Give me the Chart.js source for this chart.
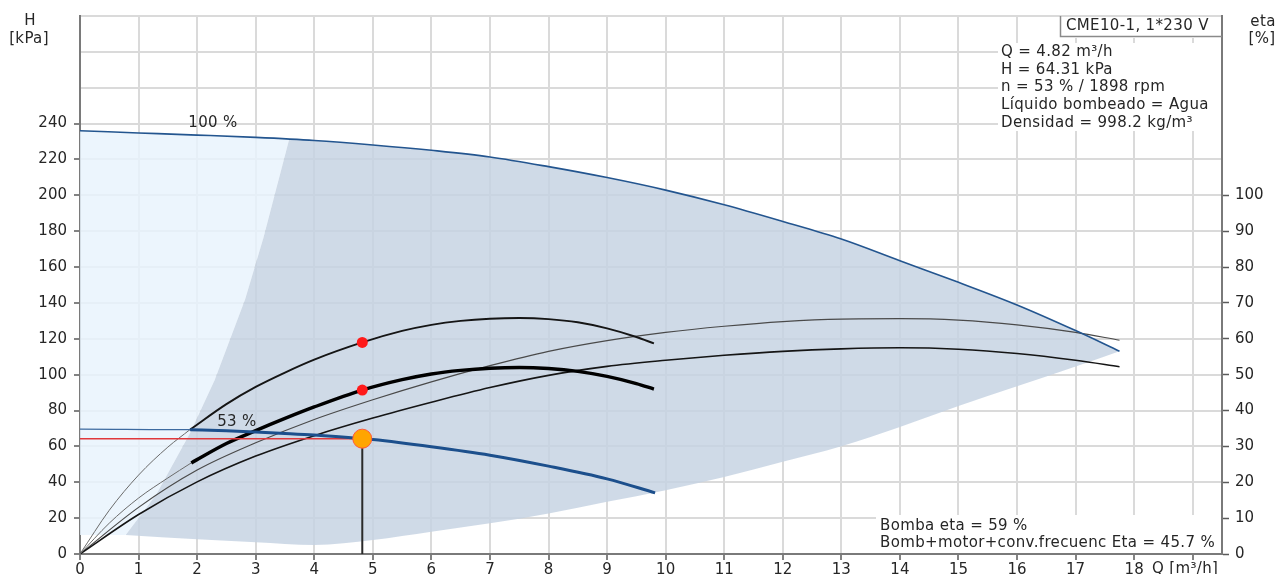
<!DOCTYPE html>
<html>
<head>
<meta charset="utf-8">
<title>CME10-1 curva de bomba</title>
<script src="https://cdn.jsdelivr.net/npm/chart.js@4.4.1/dist/chart.umd.min.js"></script>
<style>
  html, body { margin: 0; padding: 0; background: #ffffff; }
  #wrap { width: 1284px; height: 574px; position: relative; }
</style>
</head>
<body>
<div id="wrap"><canvas id="pump"></canvas></div>
<script>
// ---- Curve data (Q in m³/h, H in kPa, eta in %) ----
const flowFull = [0, 1, 2, 3, 4, 5, 6, 7, 8, 9, 10, 11, 12, 13, 14, 15, 16, 17, 17.75];
const headFull = [236, 234.8, 233.6, 232.3, 230.6, 228.1, 225.1, 221.4, 216.0, 209.9, 202.9, 194.7, 185.4, 175.6, 163.5, 151.5, 138.9, 124.6, 113.1];
const etaPumpFull = [0, 13, 23.4, 31, 37.5, 43, 48, 52.5, 56.5, 59.5, 61.8, 63.5, 64.8, 65.5, 65.6, 65.2, 63.9, 61.8, 59.6];
const etaTotalFull = [0, 11, 20.1, 27.3, 33, 37.9, 42.3, 46.4, 49.8, 52.3, 54, 55.4, 56.5, 57.2, 57.5, 57.1, 55.9, 54.0, 52.2];

// 53 % speed: head curve (outside / inside the operating range)
const flow53Out = [0, 0.6, 1.2, 1.88];
const head53Out = [69.6, 69.5, 69.4, 69.3];
const flow53 = [1.88, 2.5, 3, 3.5, 4, 4.82, 5, 6, 7, 8, 9, 9.82];
const head53 = [69.3, 68.7, 68.0, 67.2, 66.3, 64.31, 63.8, 59.8, 55.1, 49.0, 41.9, 34.1];

// 53 % speed: pump efficiency
const flowEtaPump53Out = [0, 0.5, 1, 1.5, 1.88];
const etaPump53Out = [0, 12.2, 22, 29.8, 34.7];
const flowEtaPump53 = [1.88, 2.5, 3, 3.5, 4, 4.82, 5.5, 6, 6.5, 7, 7.5, 8, 8.5, 9, 9.5, 9.8];
const etaPump53 = [34.7, 41.8, 46.6, 50.6, 54.2, 59, 62.2, 63.9, 65.0, 65.6, 65.8, 65.5, 64.6, 62.9, 60.5, 58.7];

// 53 % speed: pump + motor + frequency converter efficiency
const flowEtaTotal53Out = [0, 0.5, 1, 1.5, 1.9];
const etaTotal53Out = [0, 8.6, 15.6, 21.2, 25.4];
const flowEtaTotal53 = [1.9, 2.5, 3, 3.5, 4, 4.82, 5.5, 6, 6.5, 7, 7.5, 8, 8.5, 9, 9.5, 9.8];
const etaTotal53 = [25.4, 30.8, 34.4, 37.8, 41.0, 45.7, 48.6, 50.2, 51.2, 51.8, 52.0, 51.7, 50.9, 49.5, 47.5, 46.0];

// Operating range limits
const rangeLeftFlow = [0.78, 1.3, 1.88, 2.3, 2.82, 3.13, 3.57];
const rangeLeftHead = [10.6, 33, 67.5, 97, 142, 176, 231.0];
const rangeBottomFlow = [0.78, 2, 3, 4, 5, 6, 7, 8, 9, 10, 11, 12, 13, 14, 15, 16, 17, 17.75];
const rangeBottomHead = [10.6, 8.2, 6.5, 5.0, 7.8, 12.4, 17.1, 22.6, 29.1, 35.6, 43.0, 51.4, 60.1, 70.8, 82.5, 93.5, 104.6, 113.1];
const minHead = 10.6;

// Duty point
const dutyFlow = 4.82;
const dutyHead = 64.31;
const dutyEtaPump = 59;
const dutyEtaTotal = 45.7;

// Axis ticks
const flowLabelMax = 18;
const headLabelMax = 240;
const etaLabelMax = 100;

// Texts
const pumpName = 'CME10-1, 1*230 V';
const infoLines = ['Q = 4.82 m³/h', 'H = 64.31 kPa', 'n = 53 % / 1898 rpm', 'Líquido bombeado = Agua', 'Densidad = 998.2 kg/m³'];
const effLines = ['Bomba eta = 59 %', 'Bomb+motor+conv.frecuenc Eta = 45.7 %'];
const fullSpeedLabel = '100 %';
const partSpeedLabel = '53 %';

// ---- Build point lists ----
const pts = (xs, ys) => xs.map((x, i) => ({ x: x, y: ys[i] }));
const splitAt = rangeLeftFlow[rangeLeftFlow.length - 1];

// light area (left of operating range)
const lightUpper = pts(flowFull, headFull).filter(p => p.x < splitAt)
  .concat([{ x: splitAt, y: rangeLeftHead[rangeLeftHead.length - 1] }]);
const lightLower = [{ x: 0, y: minHead }].concat(pts(rangeLeftFlow, rangeLeftHead));

// operating range
const darkUpper = pts(rangeLeftFlow, rangeLeftHead)
  .concat(pts(flowFull, headFull).filter(p => p.x > splitAt));
const darkLower = pts(rangeBottomFlow, rangeBottomHead);

const BLUE = '#23558f';
const GRID = '#dadada';
const AXIS = '#7a7a7a';
const TXT = '#262626';
const FONT = '"DejaVu Sans", "Liberation Sans", sans-serif';

const curve = (data, axis, color, width, order) => ({
  data: data, yAxisID: axis, borderColor: color, borderWidth: width,
  pointRadius: 0, fill: false, cubicInterpolationMode: 'monotone', order: order
});

const datasets = [
  // 0,1: area left of the operating range
  { data: lightUpper, yAxisID: 'y', borderColor: 'transparent', borderWidth: 0, pointRadius: 0,
    fill: 1, backgroundColor: 'rgba(232,243,253,0.82)', tension: 0, order: 60 },
  { data: lightLower, yAxisID: 'y', borderColor: 'transparent', borderWidth: 0, pointRadius: 0,
    fill: false, tension: 0, order: 61 },
  // 2,3: operating range
  { data: darkUpper, yAxisID: 'y', borderColor: 'transparent', borderWidth: 0, pointRadius: 0,
    fill: 3, backgroundColor: 'rgba(196,210,226,0.82)', tension: 0, order: 50 },
  { data: darkLower, yAxisID: 'y', borderColor: 'transparent', borderWidth: 0, pointRadius: 0,
    fill: false, cubicInterpolationMode: 'monotone', order: 51 },

  // efficiency curves (right axis)
  curve(pts(flowFull, etaPumpFull), 'y2', '#4a4a4a', 1.2, 20),
  curve(pts(flowFull, etaTotalFull), 'y2', '#151515', 1.6, 19),
  curve(pts(flowEtaPump53Out, etaPump53Out), 'y2', '#6a6a6a', 1, 18),
  curve(pts(flowEtaTotal53Out, etaTotal53Out), 'y2', '#6a6a6a', 1, 18),
  curve(pts(flowEtaPump53, etaPump53), 'y2', '#151515', 1.9, 17),
  curve(pts(flowEtaTotal53, etaTotal53), 'y2', '#000000', 3.4, 16),

  // head curves (left axis)
  curve(pts(flowFull, headFull), 'y', BLUE, 1.6, 15),
  curve(pts(flow53Out, head53Out), 'y', '#3d6aa0', 1.2, 14),

  // duty point guide lines
  { data: [{ x: 0, y: dutyHead }, { x: dutyFlow, y: dutyHead }], yAxisID: 'y', borderColor: '#e0383c',
    borderWidth: 1.5, pointRadius: 0, fill: false, order: 13 },
  { data: [{ x: dutyFlow, y: 0 }, { x: dutyFlow, y: dutyHead }], yAxisID: 'y', borderColor: '#2a2a2a',
    borderWidth: 2, pointRadius: 0, fill: false, order: 12 },

  curve(pts(flow53, head53), 'y', '#1c4f8c', 3, 11),

  // duty point markers
  { data: [{ x: dutyFlow, y: dutyEtaPump }, { x: dutyFlow, y: dutyEtaTotal }], yAxisID: 'y2', showLine: false,
    pointRadius: 5.5, pointBackgroundColor: '#ff1a1a', pointBorderColor: '#ff2020', pointBorderWidth: 0, order: 2 },
  { data: [{ x: dutyFlow, y: dutyHead }], yAxisID: 'y', showLine: false,
    pointRadius: 9.5, pointBackgroundColor: '#ffa500', pointBorderColor: '#ff5a3c', pointBorderWidth: 1, order: 1 }
];

// ---- Texts and boxes drawn on top ----
const textPlugin = {
  id: 'pumpTexts',
  afterDraw(chart) {
    const ctx = chart.ctx;
    const a = chart.chartArea;
    const xs = chart.scales.x, ys = chart.scales.y;
    ctx.save();
    ctx.font = '15px ' + FONT;
    if ('letterSpacing' in ctx) ctx.letterSpacing = '0.35px';
    ctx.fillStyle = TXT;
    ctx.textBaseline = 'middle';

    // axis titles
    ctx.textAlign = 'center';
    ctx.fillText('H', 30, 21);
    ctx.fillText('[kPa]', 29, 39);
    ctx.fillText('eta', 1263, 22);
    ctx.fillText('[%]', 1262, 39);

    // curve labels
    ctx.fillText(fullSpeedLabel, xs.getPixelForValue(2.27), ys.getPixelForValue(240));
    ctx.fillText(partSpeedLabel, xs.getPixelForValue(2.68), ys.getPixelForValue(73.5));

    // flow axis title
    ctx.textAlign = 'left';
    ctx.fillText('Q [m³/h]', 1152, 569);

    // pump name box
    ctx.fillStyle = '#ffffff';
    ctx.fillRect(1060, a.top + 1, a.right - 1061, 21);
    ctx.strokeStyle = '#8a8a8a';
    ctx.lineWidth = 1.5;
    ctx.beginPath();
    ctx.moveTo(1060.5, a.top);
    ctx.lineTo(1060.5, 36.5);
    ctx.lineTo(a.right, 36.5);
    ctx.stroke();
    ctx.fillStyle = TXT;
    ctx.fillText(pumpName, 1066, 26);

    // duty point info
    ctx.fillStyle = '#ffffff';
    ctx.fillRect(998, 43, a.right - 999, 88);
    ctx.fillStyle = TXT;
    infoLines.forEach((t, i) => ctx.fillText(t, 1001, 52 + i * 17.8));

    // efficiency info
    ctx.fillStyle = '#ffffff';
    ctx.fillRect(876, 515, a.right - 877, a.bottom - 516);
    ctx.fillStyle = TXT;
    effLines.forEach((t, i) => ctx.fillText(t, 880, 526 + i * 17.5));
    ctx.restore();
  }
};

const tickFont = { family: FONT, size: 15 };

new Chart(document.getElementById('pump'), {
  type: 'line',
  data: { datasets: datasets },
  options: {
    responsive: true,
    maintainAspectRatio: false,
    animation: false,
    devicePixelRatio: 1,
    layout: { padding: { top: 15, left: 0, right: 0, bottom: 0 } },
    plugins: { legend: { display: false }, tooltip: { enabled: false } },
    elements: { line: { tension: 0 } },
    scales: {
      x: {
        type: 'linear', min: 0, max: 19.5,
        afterFit: s => { s.height = 20; },
        border: { color: AXIS, width: 2 },
        grid: { color: GRID, lineWidth: 2, tickLength: 6, tickColor: '#5a5a5a', tickWidth: 1.5 },
        ticks: { stepSize: 1, includeBounds: false, autoSkip: false, maxRotation: 0, padding: 1,
          color: TXT, font: tickFont, callback: v => (v <= flowLabelMax ? v : '') }
      },
      y: {
        type: 'linear', position: 'left', min: 0, max: 300,
        afterFit: s => { s.width = 80; },
        border: { color: AXIS, width: 2 },
        grid: { color: GRID, lineWidth: 2, tickLength: 6, tickWidth: 1.5,
          tickColor: c => (c.tick && c.tick.value <= headLabelMax ? '#5a5a5a' : 'transparent') },
        ticks: { stepSize: 20, includeBounds: false, padding: 7, color: TXT, font: tickFont,
          callback: v => (v <= headLabelMax ? v : '') }
      },
      y2: {
        type: 'linear', position: 'right', min: 0, max: 150,
        afterFit: s => { s.width = 62; },
        border: { color: AXIS, width: 2 },
        grid: { drawOnChartArea: false, tickLength: 7, tickWidth: 1.5,
          tickColor: c => (c.tick && c.tick.value <= etaLabelMax ? '#5a5a5a' : 'transparent') },
        ticks: { stepSize: 10, includeBounds: false, padding: 6, color: TXT, font: tickFont,
          callback: v => (v <= etaLabelMax ? v : '') }
      }
    }
  },
  plugins: [textPlugin]
});
</script>
</body>
</html>
